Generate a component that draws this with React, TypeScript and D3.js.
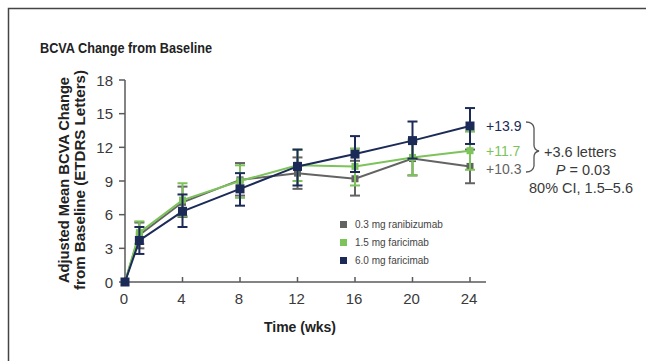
import React from "react";
import * as d3 from "d3";

const weeks = [0, 1, 4, 8, 12, 16, 20, 24];
const xTicks = [0, 4, 8, 12, 16, 20, 24];
const yTicks = [0, 3, 6, 9, 12, 15, 18];

const seriesNames = ["0.3 mg ranibizumab", "1.5 mg faricimab", "6.0 mg faricimab"];
const seriesColors = ["#636363", "#7cc35a", "#1b2a57"];

const raniMean = [0, 4.2, 7.1, 9.1, 9.7, 9.2, 11.0, 10.3];
const raniLow = [0, 3.0, 5.8, 7.7, 8.3, 7.7, 9.5, 8.8];
const raniHigh = [0, 5.3, 8.5, 10.6, 11.1, 10.8, 12.5, 11.8];

const fari15Mean = [0, 4.4, 7.3, 9.0, 10.4, 10.3, 11.1, 11.7];
const fari15Low = [0, 3.4, 5.9, 7.5, 9.0, 8.6, 9.5, 10.0];
const fari15High = [0, 5.4, 8.8, 10.4, 11.8, 11.9, 12.7, 13.4];

const fari60Mean = [0, 3.7, 6.3, 8.3, 10.3, 11.4, 12.6, 13.9];
const fari60Low = [0, 2.5, 4.9, 6.8, 8.6, 9.8, 11.0, 12.3];
const fari60High = [0, 4.9, 7.8, 9.7, 11.8, 13.0, 14.3, 15.5];

const endLabels = ["+10.3", "+11.7", "+13.9"];

const FONT = "'Liberation Sans', Arial, sans-serif";

export default function App() {
  const x = d3.scaleLinear().domain([0, 24]).range([125, 470]);
  const y = d3.scaleLinear().domain([0, 18]).range([282, 80]);

  const series = [
    { mean: raniMean, low: raniLow, high: raniHigh, color: seriesColors[0], size: 7 },
    { mean: fari15Mean, low: fari15Low, high: fari15High, color: seriesColors[1], size: 7 },
    { mean: fari60Mean, low: fari60Low, high: fari60High, color: seriesColors[2], size: 9 },
  ];

  const line = d3
    .line<number>()
    .x((_, i) => x(weeks[i]))
    .y((d) => y(d));

  const axisColor = "#5a5a5a";
  const textColor = "#3a3a3a";

  return (
    <svg
      width={646}
      height={361}
      style={{ position: "absolute", left: 0, top: 0, background: "#fff" }}
      fontFamily={FONT}
    >
      <rect x={0} y={0} width={646} height={361} fill="#fff" />
      {/* frame */}
      <path d="M8.5,361 L8.5,8.5 L646,8.5" fill="none" stroke="#444" strokeWidth={1.5} />

      {/* title */}
      <text x={40} y={53} fontSize={15.5} fontWeight="bold" fill="#222" textLength={172} lengthAdjust="spacingAndGlyphs">
        BCVA Change from Baseline
      </text>

      {/* y label */}
      <g transform="translate(69,180) rotate(-90)">
        <text x={0} y={0} textAnchor="middle" fontSize={14} fontWeight="bold" fill="#222" textLength={206} lengthAdjust="spacingAndGlyphs">
          Adjusted Mean BCVA Change
        </text>
        <text x={0} y={16} textAnchor="middle" fontSize={14} fontWeight="bold" fill="#222" textLength={220} lengthAdjust="spacingAndGlyphs">
          from Baseline (ETDRS Letters)
        </text>
      </g>

      {/* y axis */}
      <line x1={125} x2={125} y1={y(18)} y2={y(0)} stroke={axisColor} strokeWidth={1.5} />
      {yTicks.map((t) => (
        <g key={"y" + t}>
          <line x1={119} x2={125} y1={y(t)} y2={y(t)} stroke={axisColor} strokeWidth={1.5} />
          <text x={113} y={y(t) + 5.5} textAnchor="end" fontSize={15} fill={textColor}>
            {t}
          </text>
        </g>
      ))}

      {/* x axis */}
      <line x1={125} x2={486} y1={y(0)} y2={y(0)} stroke={axisColor} strokeWidth={1.5} />
      {xTicks.map((t) => (
        <g key={"x" + t}>
          <line x1={x(t)} x2={x(t)} y1={y(0) - 5} y2={y(0)} stroke={axisColor} strokeWidth={1.5} />
          <text x={x(t) - 1} y={304} textAnchor="middle" fontSize={15} fill={textColor}>
            {t}
          </text>
        </g>
      ))}
      <text x={300} y={332} textAnchor="middle" fontSize={14} fontWeight="bold" fill="#222">
        Time (wks)
      </text>

      {/* series */}
      {series.map((s, si) => (
        <g key={"s" + si}>
          <path d={line(s.mean) || ""} fill="none" stroke={s.color} strokeWidth={2} />
          {s.mean.map((m, i) =>
            i === 0 ? null : (
              <g key={i}>
                <line x1={x(weeks[i])} x2={x(weeks[i])} y1={y(s.low[i])} y2={y(s.high[i])} stroke={s.color} strokeWidth={2} />
                <line x1={x(weeks[i]) - 5} x2={x(weeks[i]) + 5} y1={y(s.low[i])} y2={y(s.low[i])} stroke={s.color} strokeWidth={2} />
                <line x1={x(weeks[i]) - 5} x2={x(weeks[i]) + 5} y1={y(s.high[i])} y2={y(s.high[i])} stroke={s.color} strokeWidth={2} />
              </g>
            )
          )}
          {s.mean.map((m, i) => (
            <rect
              key={"m" + i}
              x={x(weeks[i]) - s.size / 2}
              y={y(m) - s.size / 2}
              width={s.size}
              height={s.size}
              fill={s.color}
            />
          ))}
        </g>
      ))}

      {/* end labels */}
      {series.map((s, si) => (
        <text key={"e" + si} x={486} y={[174, 156, 131][si]} fontSize={14} fill={s.color}>
          {endLabels[si]}
        </text>
      ))}
      <path d="M526,122 Q533,122 534,128 L534,145 Q534,150 539,151 Q534,152 534,157 L534,166 Q533,172 526,172" fill="none" stroke="#555" strokeWidth={1.3} />
      <text x={544} y={157} fontSize={14.5} fill={textColor}>+3.6 letters</text>
      <text x={583} y={175} textAnchor="middle" fontSize={14.5} fill={textColor}>
        <tspan fontStyle="italic">P</tspan> = 0.03
      </text>
      <text x={529} y={193} fontSize={14.5} fill={textColor}>80% CI, 1.5–5.6</text>

      {/* legend */}
      {seriesNames.map((n, i) => (
        <g key={"l" + i}>
          <rect x={340} y={221 + i * 18} width={7} height={7} fill={seriesColors[i]} />
          <text x={355} y={228 + i * 18} fontSize={10} fill="#444">
            {n}
          </text>
        </g>
      ))}
    </svg>
  );
}
